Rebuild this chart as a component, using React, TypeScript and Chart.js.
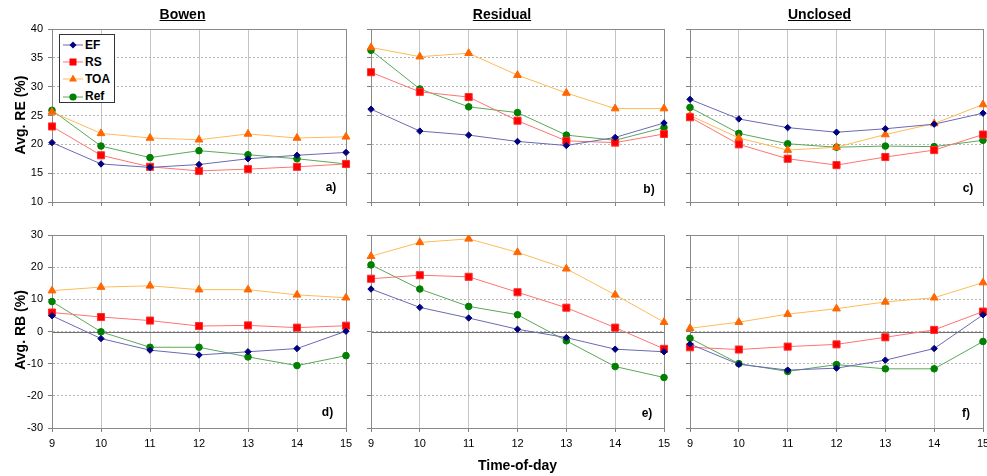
import React, { useEffect, useRef } from "react";
import { Chart, registerables } from "chart.js";
Chart.register(...registerables);

const hours = ["9", "10", "11", "12", "13", "14", "15"];
const seriesNames = ["EF", "RS", "TOA", "Ref"];
const panelTitles = ["Bowen", "Residual", "Unclosed"];
const panelLetters = ["a)", "b)", "c)", "d)", "e)", "f)"];

// Avg. RE (%)
const reBowenEF = [20.3, 16.6, 16.0, 16.5, 17.5, 18.1, 18.6];
const reBowenRS = [23.1, 18.1, 16.1, 15.4, 15.7, 16.1, 16.6];
const reBowenTOA = [25.6, 21.9, 21.1, 20.8, 21.8, 21.1, 21.3];
const reBowenRef = [25.9, 19.7, 17.7, 18.9, 18.2, 17.5, 16.6];

const reResidualEF = [26.1, 22.3, 21.6, 20.5, 19.8, 21.2, 23.7];
const reResidualRS = [32.5, 29.1, 28.2, 24.1, 20.6, 20.3, 21.8];
const reResidualTOA = [36.8, 35.2, 35.8, 32.0, 28.9, 26.2, 26.2];
const reResidualRef = [36.3, 29.6, 26.5, 25.5, 21.6, 20.7, 22.9];

const reUnclosedEF = [27.8, 24.4, 22.9, 22.1, 22.7, 23.5, 25.4];
const reUnclosedRS = [24.7, 20.0, 17.5, 16.4, 17.8, 19.0, 21.7];
const reUnclosedTOA = [25.0, 21.1, 19.0, 19.5, 21.7, 23.6, 26.9];
const reUnclosedRef = [26.4, 21.9, 20.1, 19.5, 19.7, 19.6, 20.7];

// Avg. RB (%)
const rbBowenEF = [4.9, -2.2, -5.8, -7.3, -6.3, -5.3, 0.1];
const rbBowenRS = [5.9, 4.5, 3.4, 1.7, 1.9, 1.2, 1.8];
const rbBowenTOA = [12.7, 13.8, 14.2, 13.0, 13.0, 11.4, 10.5];
const rbBowenRef = [9.3, -0.1, -4.9, -4.9, -7.9, -10.6, -7.5];

const rbResidualEF = [13.2, 7.5, 4.2, 0.7, -1.9, -5.5, -6.3];
const rbResidualRS = [16.4, 17.5, 17.0, 12.2, 7.4, 1.2, -5.4];
const rbResidualTOA = [23.4, 27.7, 28.8, 24.6, 19.5, 11.4, 2.9];
const rbResidualRef = [20.7, 13.2, 7.8, 5.2, -2.9, -10.9, -14.3];

const rbUnclosedEF = [-3.9, -10.2, -12.0, -11.4, -8.9, -5.3, 5.2];
const rbUnclosedRS = [-4.9, -5.6, -4.7, -4.0, -1.8, 0.5, 6.2];
const rbUnclosedTOA = [1.0, 2.9, 5.4, 7.1, 9.2, 10.5, 15.2];
const rbUnclosedRef = [-2.1, -10.0, -12.4, -10.3, -11.6, -11.6, -3.1];

const FONT = "'Liberation Sans', Arial, Helvetica, sans-serif";

const styles = [
  { borderColor: "#6a6ab4", backgroundColor: "#000080", pointBorderColor: "#000080", pointBackgroundColor: "#000080", pointStyle: "rectRot", pointRadius: 3.2 },
  { borderColor: "#ff7373", backgroundColor: "#ff0000", pointBorderColor: "#ff3030", pointBackgroundColor: "#ff0000", pointStyle: "rect", pointRadius: 5 },
  { borderColor: "#ffbb55", backgroundColor: "#ff6600", pointBorderColor: "#ff6600", pointBackgroundColor: "#ff6600", pointStyle: "triangle", pointRadius: 4.5 },
  { borderColor: "#5aa85a", backgroundColor: "#008000", pointBorderColor: "#008000", pointBackgroundColor: "#008000", pointStyle: "circle", pointRadius: 3.3 },
];

const framePlugin = {
  id: "frame",
  beforeDatasetsDraw(chart: any, _args: any, opts: any) {
    const { ctx, chartArea: a, scales } = chart;
    ctx.save();
    ctx.lineWidth = 1;
    if (opts && opts.zero) {
      const y = Math.round(scales.y.getPixelForValue(0)) + 0.5;
      ctx.strokeStyle = "#707070";
      ctx.beginPath();
      ctx.moveTo(a.left, y);
      ctx.lineTo(a.right, y);
      ctx.stroke();
    }
    ctx.strokeStyle = "#8a8a8a";
    ctx.strokeRect(Math.round(a.left) + 0.5, Math.round(a.top) + 0.5, Math.round(a.right - a.left), Math.round(a.bottom - a.top));
    ctx.restore();
  },
};

const PADL = 50, PADT = 12, PADR = 12, PADB = 28;

function PanelChart(props: any) {
  const { L, T, R, B, series, yMin, yMax, yStep, showY, showX, zero } = props;
  const ref = useRef<HTMLCanvasElement>(null);
  const W = R - L + PADL + PADR;
  const H = B - T + PADT + PADB;
  useEffect(() => {
    const chart = new Chart(ref.current as HTMLCanvasElement, {
      type: "line",
      data: {
        labels: hours,
        datasets: series.map((d: number[], i: number) => ({
          label: seriesNames[i],
          data: d,
          borderWidth: 1,
          pointBorderWidth: 1,
          tension: 0,
          ...styles[i],
        })),
      },
      options: {
        responsive: false,
        animation: false,
        devicePixelRatio: 1,
        layout: { padding: { left: 0, top: PADT, right: PADR, bottom: 0 } },
        plugins: {
          legend: { display: false },
          tooltip: { enabled: false },
          frame: { zero },
        } as any,
        scales: {
          x: {
            type: "category",
            offset: false,
            afterFit: (s: any) => { s.height = PADB; },
            grid: { color: "#c4c4c4", lineWidth: 1, tickColor: "#808080", tickLength: 4 },
            border: { color: "#808080" },
            ticks: { display: showX, color: "#000", font: { family: FONT, size: 11 }, padding: 5, maxRotation: 0, autoSkip: false },
          },
          y: {
            type: "linear",
            min: yMin,
            max: yMax,
            afterFit: (s: any) => { s.width = PADL; },
            grid: { color: "#b4b4b4", lineWidth: 1, tickColor: "#808080", tickLength: 4 },
            border: { color: "#808080", dash: [2, 2] },
            ticks: { display: showY, stepSize: yStep, color: "#000", font: { family: FONT, size: 11 }, padding: 5 },
          },
        },
      } as any,
      plugins: [framePlugin as any],
    });
    return () => chart.destroy();
  }, []);
  return (
    <canvas
      ref={ref}
      width={W}
      height={H}
      style={{ position: "absolute", left: L - PADL, top: T - PADT, width: W, height: H }}
    />
  );
}

const colsX = [
  { L: 52, R: 346 },
  { L: 371, R: 664 },
  { L: 690, R: 983 },
];
const rowTop = { T: 29, B: 202 };
const rowBot = { T: 235, B: 428 };

const reSeries = [
  [reBowenEF, reBowenRS, reBowenTOA, reBowenRef],
  [reResidualEF, reResidualRS, reResidualTOA, reResidualRef],
  [reUnclosedEF, reUnclosedRS, reUnclosedTOA, reUnclosedRef],
];
const rbSeries = [
  [rbBowenEF, rbBowenRS, rbBowenTOA, rbBowenRef],
  [rbResidualEF, rbResidualRS, rbResidualTOA, rbResidualRef],
  [rbUnclosedEF, rbUnclosedRS, rbUnclosedTOA, rbUnclosedRef],
];

function Marker({ i }: { i: number }) {
  const s = styles[i];
  let shape: any = null;
  if (i === 0) shape = <polygon points="10,1.5 13.5,5 10,8.5 6.5,5" fill={s.pointBackgroundColor} />;
  if (i === 1) shape = <rect x={6.5} y={1.5} width={7} height={7} fill={s.pointBackgroundColor} />;
  if (i === 2) shape = <polygon points="10,0.5 14,7.5 6,7.5" fill={s.pointBackgroundColor} />;
  if (i === 3) shape = <circle cx={10} cy={5} r={3.6} fill={s.pointBackgroundColor} />;
  return (
    <svg width={20} height={10} style={{ position: "absolute", left: 3, top: -5 }}>
      <line x1={0} y1={5} x2={20} y2={5} stroke={s.borderColor} strokeWidth={1} />
      {shape}
    </svg>
  );
}

const textBase: any = { position: "absolute", fontFamily: FONT, fontWeight: "bold", color: "#000", whiteSpace: "nowrap", lineHeight: 1 };

export default function App() {
  return (
    <div style={{ position: "absolute", left: 0, top: 0, width: 987, height: 476, background: "#fff", overflow: "hidden" }}>
      {colsX.map((c, i) => (
        <PanelChart key={"re" + i} L={c.L} R={c.R} T={rowTop.T} B={rowTop.B} series={reSeries[i]} yMin={10} yMax={40} yStep={5} showY={i === 0} showX={false} zero={false} />
      ))}
      {colsX.map((c, i) => (
        <PanelChart key={"rb" + i} L={c.L} R={c.R} T={rowBot.T} B={rowBot.B} series={rbSeries[i]} yMin={-30} yMax={30} yStep={10} showY={i === 0} showX={true} zero={true} />
      ))}
      {[182.5, 502, 819.5].map((x, i) => (
        <div key={"t" + i} style={{ ...textBase, left: x, top: 14, fontSize: 14, textDecoration: "underline", transform: "translate(-50%,-50%)" }}>
          {panelTitles[i]}
        </div>
      ))}
      <div style={{ ...textBase, left: 19.5, top: 115, fontSize: 14, transform: "translate(-50%,-50%) rotate(-90deg)" }}>Avg. RE (%)</div>
      <div style={{ ...textBase, left: 19.5, top: 330, fontSize: 14, transform: "translate(-50%,-50%) rotate(-90deg)" }}>Avg. RB (%)</div>
      <div style={{ ...textBase, left: 517.5, top: 465, fontSize: 14, transform: "translate(-50%,-50%)" }}>Time-of-day</div>
      {[
        [331, 187], [649, 189], [968, 188],
        [327.5, 412], [647, 413], [966, 413],
      ].map((p, i) => (
        <div key={"l" + i} style={{ ...textBase, left: p[0], top: p[1], fontSize: 12, transform: "translate(-50%,-50%)" }}>
          {panelLetters[i]}
        </div>
      ))}
      <div style={{ position: "absolute", left: 59, top: 34, width: 56, height: 69, border: "1px solid #333", background: "#fff", boxSizing: "border-box" }}>
        {seriesNames.map((n, i) => (
          <div key={n} style={{ position: "absolute", left: 0, top: 10 + i * 17.2, width: 56, height: 0 }}>
            <Marker i={i} />
            <div style={{ ...textBase, left: 25, top: -6.5, fontSize: 12 }}>{n}</div>
          </div>
        ))}
      </div>
    </div>
  );
}
